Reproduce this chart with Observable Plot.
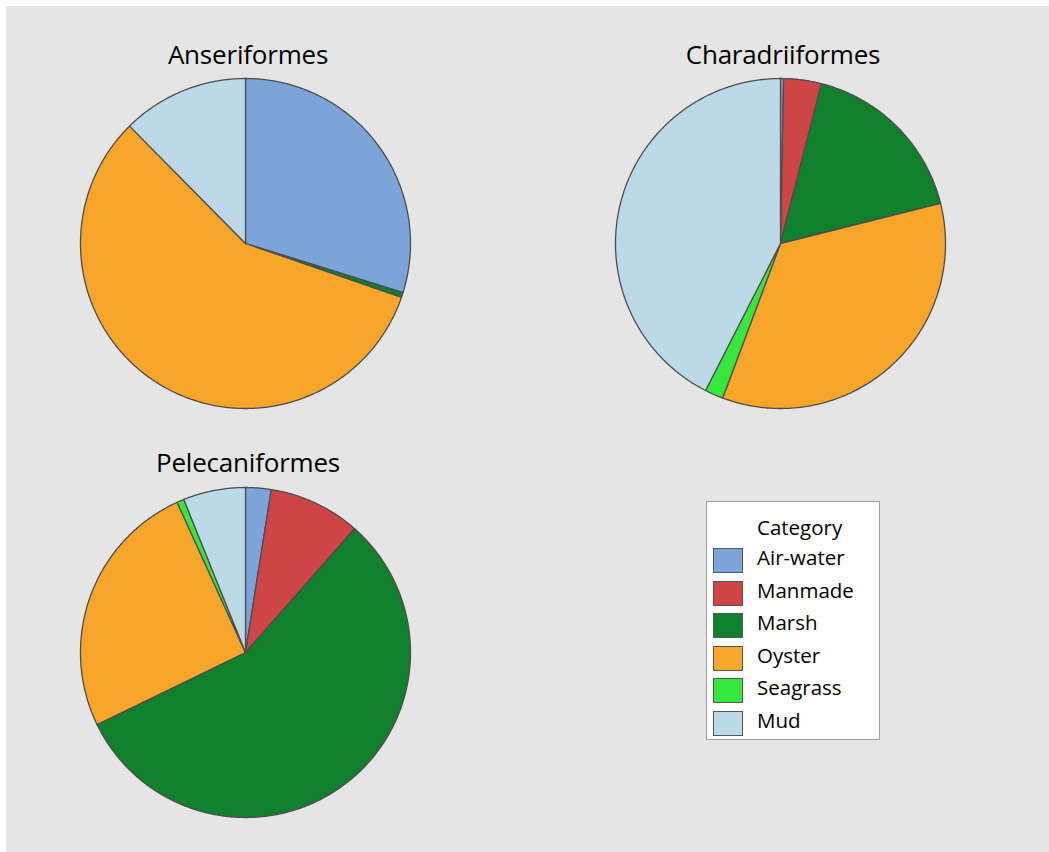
<!DOCTYPE html>
<html><head><meta charset="utf-8">
<script src="https://cdn.jsdelivr.net/npm/d3@7"></script>
<script src="https://cdn.jsdelivr.net/npm/@observablehq/plot@0.6"></script>
<style>
html,body{margin:0;padding:0;background:#fff;}
#page{position:relative;width:1049px;height:852px;overflow:hidden;}
#frame{position:absolute;left:6px;top:6px;width:1043px;height:846px;background:#e5e5e5;}
.pie{position:absolute;width:340px;height:340px;}
.title{position:absolute;width:300px;text-align:center;font-family:"Open Sans",sans-serif;font-size:26px;color:#000;line-height:1;letter-spacing:-0.2px;}
#legend{position:absolute;left:706px;top:501px;width:172px;height:237px;background:#fff;border:1px solid #a0a0a0;font-family:"Open Sans",sans-serif;color:#000;}
#legend .lt{position:absolute;left:50px;top:11px;font-size:20.5px;}
#legend .it{position:absolute;left:6px;height:25px;}
#legend .sw{position:absolute;left:0;top:0;width:28px;height:23px;border:1px solid #555;}
#legend .lb{position:absolute;left:44px;top:-5px;font-size:20.5px;white-space:nowrap;}
</style></head><body>
<div id="page"><div id="frame"></div></div>
<script>
const categories = ["Air-water", "Manmade", "Marsh", "Oyster", "Seagrass", "Mud"];
const colors = ["#7ba5da", "#cf4545", "#10802c", "#f7a62a", "#36e83b", "#bcd9e8"];
const groups = ["Anseriformes", "Charadriiformes", "Pelecaniformes"];
const anseriformes = [29.8, 0, 0.5, 57.3, 0, 12.4];
const charadriiformes = [0.3, 3.7, 17.1, 34.6, 1.8, 42.5];
const pelecaniformes = [2.5, 9.0, 56.3, 25.4, 0.7, 6.1];
const groupValues = [anseriformes, charadriiformes, pelecaniformes];

const layout = [
  {cx: 245, cy: 243, ty: 41},
  {cx: 780, cy: 243, ty: 41},
  {cx: 245, cy: 652, ty: 449}
];
const R = 165;
const page = document.getElementById("page");

function slicePoints(values) {
  const arcs = d3.pie().sort(null).value(d => d)(values);
  const pts = [];
  arcs.forEach((a, i) => {
    if (!(a.value > 0)) return;
    const n = Math.max(2, Math.ceil((a.endAngle - a.startAngle) / 0.01));
    pts.push({slice: i, category: categories[i], x: 0, y: 0});
    for (let k = 0; k <= n; k++) {
      const t = a.startAngle + (a.endAngle - a.startAngle) * k / n;
      pts.push({slice: i, category: categories[i], x: Math.sin(t), y: Math.cos(t)});
    }
    pts.push({slice: i, category: categories[i], x: 0, y: 0});
  });
  return pts;
}

groups.forEach((g, gi) => {
  const L = layout[gi];
  const half = 170 / R;
  const svg = Plot.plot({
    width: 340, height: 340, margin: 0,
    style: {background: "transparent", overflow: "visible"},
    x: {domain: [-half, half], axis: null},
    y: {domain: [-half, half], axis: null},
    color: {domain: categories, range: colors},
    marks: [
      Plot.line(slicePoints(groupValues[gi]), {
        x: "x", y: "y", z: "slice", fill: "category",
        stroke: "#4d4d4d", strokeWidth: 1.3, strokeLinejoin: "round", curve: "linear"
      })
    ]
  });
  const d = document.createElement("div");
  d.className = "pie";
  d.style.left = (L.cx - 170) + "px";
  d.style.top = (L.cy - 170) + "px";
  d.appendChild(svg);
  page.appendChild(d);
  const t = document.createElement("div");
  t.className = "title";
  t.textContent = g;
  t.style.left = (L.cx - 150 + 3) + "px";
  t.style.top = L.ty + "px";
  page.appendChild(t);
});

const leg = document.createElement("div");
leg.id = "legend";
const lt = document.createElement("div");
lt.className = "lt"; lt.textContent = "Category";
leg.appendChild(lt);
categories.forEach((c, i) => {
  const it = document.createElement("div");
  it.className = "it";
  it.style.top = (46 + i * 32.6) + "px";
  const sw = document.createElement("div");
  sw.className = "sw"; sw.style.background = colors[i];
  const lb = document.createElement("div");
  lb.className = "lb"; lb.textContent = c;
  it.appendChild(sw); it.appendChild(lb);
  leg.appendChild(it);
});
page.appendChild(leg);
</script>
</body></html>
